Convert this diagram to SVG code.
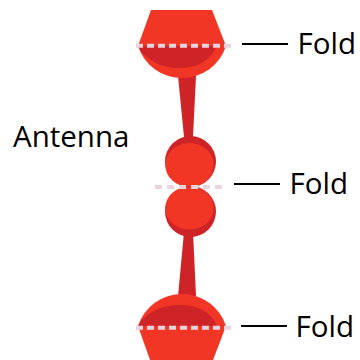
<svg xmlns="http://www.w3.org/2000/svg" width="360" height="360" viewBox="0 0 360 360">
<style>
.b{fill:#f23626}
.d{fill:#cf2427}
.fold{fill:none;stroke:#ebd3de;stroke-width:4}
.l{stroke:#000;stroke-width:2;fill:none}
text{font-family:"Open Sans","Noto Sans",sans-serif;font-size:29.500px;fill:#000}
</style>
<g id="top-horn">
<path class="d" d="M178 76L196 76L193 137L184 137Z"/>
<path class="b" d="M151 10L212 10L226 46A46.250 46.250 0 0 1 138 46Z"/>
<path class="d" d="M138 46L217 46C211 60 198 68 180 68C160 68 145 60 138 46Z"/>
<path class="fold" stroke-dasharray="7 4" d="M136 45.700H233"/>
</g>
<g id="top-ball">
<circle class="d" cx="190.500" cy="161.500" r="25.500"/>
<ellipse class="b" cx="189.500" cy="165" rx="24.200" ry="22"/>
</g>
<g id="bottom-ball">
<path class="d" d="M184 232L193 232L196 296L178 296Z"/>
<circle class="d" cx="190.500" cy="211.500" r="25.500"/>
<ellipse class="b" cx="189.500" cy="208" rx="24.200" ry="21.500"/>
</g>
<g id="bottom-horn">
<path class="b" d="M138 326A46.250 46.250 0 0 1 226 326L213 360L150 360Z"/>
<path class="d" d="M138 326C145 313 160 305 180 305C198 305 211 312 217 326Z"/>
<path class="fold" stroke-dasharray="7 4" d="M136 327.800H233"/>
</g>
<path class="fold" stroke-dasharray="7 5" d="M155 187H222"/>
<g id="connectors">
<path class="l" d="M242 44H288"/>
<path class="l" d="M234 184H280"/>
<path class="l" d="M241 326H287"/>
</g>
<g id="labels">
<text x="297.500" y="53.500">Fold</text>
<text x="289.500" y="193.500">Fold</text>
<text x="295.500" y="336.500">Fold</text>
<text x="13" y="147">Antenna</text>
</g>
</svg>
